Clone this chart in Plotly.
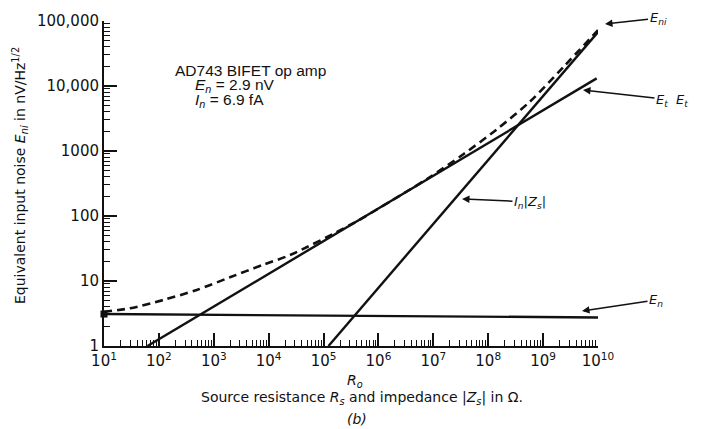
import math
import plotly.graph_objects as go

# ---- data ----
R_en = [10, 1e10]
En_vals = [3.1, 2.75]

R_et = [62, 9.46e9]
Et_vals = [1.0, 13100]

R_in = [1.23e5, 1e10]
In_vals = [1.0, 67600]

R_eni = [10, 29.8, 120, 489, 1970, 7980, 24500, 3.16e5, 3.16e6, 8.69e6,
         3.52e7, 1.42e8, 5.75e8, 2.33e9, 1e10]
Eni_vals = [3.37, 3.8, 5.1, 7.28, 11.4, 17.8, 25.1, 74, 234, 398,
            891, 2140, 5750, 19500, 72400]

Ro = 3.74e5
Ro_top = 2.9

x_tick_vals = [10 ** k for k in range(1, 11)]
x_tick_text = ["10<sup>%d</sup>" % k for k in range(1, 11)]
y_tick_vals = [1, 10, 100, 1000, 10000, 100000]
y_tick_text = ["1", "10", "100", "1000", "10,000", "100,000"]

INK = "#111111"
FONT = "DejaVu Sans"
FONT2 = "Liberation Sans"

fig = go.Figure()
fig.add_trace(go.Scatter(x=R_eni, y=Eni_vals, mode="lines",
                         line=dict(color=INK, width=2.6, dash="8px,5px",
                                   shape="spline", smoothing=0.8),
                         showlegend=False))
fig.add_trace(go.Scatter(x=R_en, y=En_vals, mode="lines",
                         line=dict(color=INK, width=2.4), showlegend=False))
fig.add_trace(go.Scatter(x=R_et, y=Et_vals, mode="lines",
                         line=dict(color=INK, width=2.4), showlegend=False))
fig.add_trace(go.Scatter(x=R_in, y=In_vals, mode="lines",
                         line=dict(color=INK, width=2.4), showlegend=False))
fig.add_trace(go.Scatter(x=[R_en[0]], y=[En_vals[0]], mode="markers",
                         marker=dict(symbol="square", size=7, color=INK),
                         cliponaxis=False, showlegend=False))

# R_o vertical marker (extends slightly below the axis)
fig.add_shape(type="line", xref="x", yref="paper",
              x0=math.log10(Ro), x1=math.log10(Ro),
              y0=-0.037, y1=math.log10(Ro_top) / 5,
              line=dict(color=INK, width=1.8))

minor_x = [m * 10 ** k for k in range(1, 10) for m in range(2, 10)]
minor_y = [m * 10 ** k for k in range(0, 5) for m in range(2, 10)]

axis_common = dict(type="log", showgrid=False, zeroline=False, showline=True,
                   linewidth=2, linecolor=INK, ticks="inside", ticklen=13,
                   tickwidth=1.5, tickcolor=INK, mirror=False,
                   tickfont=dict(family=FONT, size=15, color=INK))

fig.update_xaxes(range=[1, 10], tickmode="array", tickvals=x_tick_vals,
                 ticktext=x_tick_text,
                 minor=dict(tickmode="array", tickvals=minor_x, ticks="inside",
                            ticklen=6, tickwidth=1.2, tickcolor=INK, showgrid=False),
                 **axis_common)
fig.update_yaxes(range=[0, 5], tickmode="array", tickvals=y_tick_vals,
                 ticktext=y_tick_text,
                 minor=dict(tickmode="array", tickvals=minor_y, ticks="inside",
                            ticklen=6, tickwidth=1.2, tickcolor=INK, showgrid=False),
                 **axis_common)

W, H = 702, 429
L, R, T, B = 104, 104, 21, 83
pw, ph = W - L - R, H - T - B


def px(x):
    return (x - L) / pw


def py(y):
    return (H - B - y) / ph


ann = []
txt = dict(family=FONT, size=14, color=INK)
info = dict(family=FONT2, size=15.5, color=INK)
# info block
ann.append(dict(x=px(173), y=py(70), text="AD743 BIFET op amp", xanchor="left", font=info))
ann.append(dict(x=px(193), y=py(86), text="<i>E<sub>n</sub></i> = 2.9 nV", xanchor="left", font=info))
ann.append(dict(x=px(193), y=py(100), text="<i>I<sub>n</sub></i> = 6.9 fA", xanchor="left", font=info))
# axis titles
ann.append(dict(x=px(362), y=py(398),
                text="Source resistance <i>R<sub>s</sub></i> and impedance |<i>Z<sub>s</sub></i>| in Ω."))
ann.append(dict(x=px(357), y=py(419), text="<i>(b)</i>"))
ann.append(dict(x=px(355), y=py(381), text="<i>R<sub>o</sub></i>"))
ann.append(dict(x=px(20), y=py(176), textangle=-90,
                text="Equivalent input noise <i>E<sub>ni</sub></i> in nV/Hz<sup>1/2</sup>"))
for a in ann:
    a.update(xref="paper", yref="paper", showarrow=False)
    a.setdefault("font", txt)
    a.setdefault("xanchor", "center")
    a["yanchor"] = "middle"

arrows = [
    ((605, 24), (658, 18), "<i>E<sub>ni</sub></i>"),
    ((583, 90), (672, 100), "<i>E<sub>t</sub></i>  <i>E<sub>t</sub></i>"),
    ((462, 199), (530, 202), "<i>I<sub>n</sub></i>|<i>Z<sub>s</sub></i>|"),
    ((582, 311), (656, 300), "<i>E<sub>n</sub></i>"),
]
for (tx, ty), (lx, ly), t in arrows:
    ann.append(dict(xref="paper", yref="paper", x=px(tx), y=py(ty),
                    ax=lx - tx, ay=ly - ty, axref="pixel", ayref="pixel",
                    text=t, showarrow=True, arrowhead=2, arrowsize=1,
                    arrowwidth=1.5, arrowcolor=INK, standoff=0,
                    font=dict(family=FONT, size=13, color=INK)))

fig.update_layout(width=W, height=H, autosize=False,
                  margin=dict(l=L, r=R, t=T, b=B, pad=0),
                  paper_bgcolor="white", plot_bgcolor="white",
                  annotations=ann, showlegend=False)

fig.write_html("out.html", config={"displayModeBar": False},
               post_script="document.body.style.margin='0px';"
                           "document.body.style.overflow='hidden';")
